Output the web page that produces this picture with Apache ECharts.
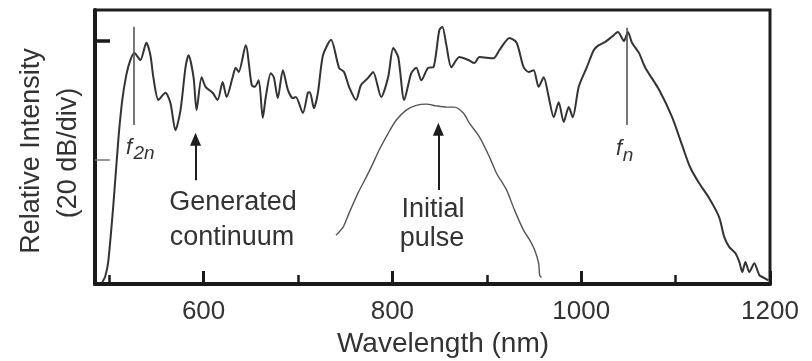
<!DOCTYPE html>
<html>
<head>
<meta charset="utf-8">
<script src="https://cdn.jsdelivr.net/npm/echarts@6/dist/echarts.min.js"></script>
<style>
  html, body { margin: 0; padding: 0; background: #fff; }
  #chart { width: 812px; height: 361px; }
</style>
</head>
<body>
<div id="chart"></div>
<script>
  // generated continuum (nm, dB)
  const contWavelength = [
    492.7, 495.9, 499, 504.4, 509.7, 513.9, 518.2, 522.4, 526.7, 533, 539.4, 543.7, 546.9, 552.2,
    559.6, 564.9, 570.2, 575.6, 580.9, 584.1, 589.4, 592.6, 597.9, 602.1, 609.6, 614.9, 620.2,
    624.4, 630.8, 634, 637.2, 644.6, 651, 654.2, 658.4, 662.7, 665.9, 671.2, 674.4, 678.6, 684,
    689.3, 694.6, 697.8, 705.2, 710.5, 712.6, 716.9, 721.1, 726.5, 735, 743.5, 748.8, 754.1,
    761.5, 766.8, 774.3, 779.6, 788.1, 795.5, 800.9, 806.2, 812.5, 820, 825.3, 830.6, 838,
    843.4, 849.7, 852.9, 857.2, 862.5, 871, 880.6, 886.9, 892.2, 907.1, 913.5, 924.1, 931.6,
    939, 944.3, 949.6, 954.9, 960.3, 965.6, 970.9, 976.2, 981.5, 986.8, 991.1, 997.4, 1006,
    1013.4, 1018.7, 1025.1, 1032.5, 1038.9, 1045.3, 1049.5, 1053.8, 1061.2, 1067.6, 1082.5,
    1096.3, 1106.9, 1115.4, 1125, 1135.6, 1146.2, 1151.5, 1156.9, 1163.2, 1167.5, 1170.7,
    1173.9, 1178.1, 1183.4, 1188.7, 1194.1, 1198.3
  ]
  const contIntensity = [
    -60.5, -59.5, -57.1, -47.6, -36.6, -29.9, -25.7, -23.2, -22.0, -23.2, -20.3, -22.4, -26.2, -29.9,
    -28.7, -30.4, -35.0, -31.6, -24.4, -22.4, -26.1, -31.6, -26.1, -27.7, -28.7, -29.9, -26.9,
    -29.4, -26.1, -24.5, -25.2, -20.7, -27.4, -27.7, -26.6, -32.9, -29.4, -25.4, -26.1, -29.6, -24.9,
    -28.2, -29.6, -29.4, -32.1, -28.7, -28.6, -31.3, -28.7, -22.4, -19.8, -24.5, -25.2, -27.7,
    -29.9, -27.4, -26.2, -25.2, -29.4, -26.1, -21.2, -22.7, -29.9, -25.4, -24.5, -26.6, -24.5,
    -24.4, -18.2, -17.6, -20.7, -24.4, -22.7, -23.2, -23.7, -22.7, -22.9, -21.5, -19.5, -20.3,
    -24.4, -25.2, -24.9, -27.7, -26.1, -29.4, -32.8, -30.3, -33.6, -31.1, -32.8, -27.7, -24.4,
    -21.5, -20.7, -20.2, -19.3, -18.5, -20.0, -18.5, -20.3, -22.0, -24.4, -28.2,
    -32.8, -37.5, -41.2, -43.9, -46.4, -49.6, -52.9, -54.6, -55.6, -57.1, -58.8,
    -57.1, -58.8, -57.3, -59.3, -59.8, -60.2
  ]

  // initial pulse (nm, dB)
  const pulseWavelength = [
    740.3, 747.7, 754.1, 763.7, 772.2, 779.6, 786, 795.5, 804, 814.7, 825.3, 835.9, 846.5,
    857.2, 865.7, 875.2, 881.6, 892.2, 902.9, 910.3, 920.9, 929.4, 939, 945.4, 950.7, 954.9, 956, 958
  ]
  const pulseIntensity = [
    -52.6, -51.3, -48.9, -45.5, -42.9, -40.5, -38.3, -35.5, -33.3, -31.6, -30.8, -30.6, -30.9,
    -31.1, -31.1, -32.1, -33.8, -36.1, -39.5, -42.2, -45.0, -48.4, -51.8, -53.4, -55.1, -57.3, -59.3, -59.7
  ]

  const majorTicks = [600, 800, 1000, 1200]
  const minorTicks = [500, 700, 900, 1100]

  const FONT = '"Liberation Sans", Arial, sans-serif'
  const TEXT = '#333'

  const zip = (xs, ys) => xs.map((x, i) => [x, ys[i]])

  const chart = echarts.init(document.getElementById('chart'))

  const text = (str, x, y, size, extra) => Object.assign({
    type: 'text',
    x: x,
    y: y,
    style: {
      text: str,
      font: (extra && extra.italic ? 'italic ' : '') + size + 'px ' + FONT,
      fill: TEXT,
      align: 'center',
      verticalAlign: 'middle'
    }
  }, extra && extra.rotation ? { rotation: extra.rotation } : {})

  const option = {
    animation: false,
    grid: {
      left: 95, right: 42, top: 10, bottom: 77,
      show: true, borderColor: '#1e1e1e', borderWidth: 3
    },
    xAxis: [
      {
        type: 'value', min: 485, max: 1200,
        axisLine: { show: true, onZero: false, lineStyle: { color: '#1a1a1a', width: 4 } },
        axisTick: { inside: true, length: 13, customValues: majorTicks, lineStyle: { color: '#1a1a1a', width: 3 } },
        axisLabel: {
          customValues: majorTicks, margin: 15, fontSize: 26, fontFamily: FONT, color: TEXT,
          formatter: v => String(v)
        },
        splitLine: { show: false }
      },
      {
        type: 'value', min: 485, max: 1200, position: 'bottom',
        axisLine: { show: false },
        axisTick: { inside: true, length: 9, customValues: minorTicks, lineStyle: { color: '#1a1a1a', width: 2.5 } },
        axisLabel: { show: false },
        splitLine: { show: false }
      }
    ],
    yAxis: [
      {
        type: 'value', min: -60.8, max: -14.8,
        axisLine: { show: true, onZero: false, lineStyle: { color: '#1a1a1a', width: 4 } },
        axisTick: { inside: true, length: 15, customValues: [-20], lineStyle: { color: '#1a1a1a', width: 3.5 } },
        axisLabel: { show: false },
        splitLine: { show: false }
      },
      {
        type: 'value', min: -60.8, max: -14.8, position: 'left',
        axisLine: { show: false },
        axisTick: { inside: true, length: 15, customValues: [-40], lineStyle: { color: '#777', width: 1.5 } },
        axisLabel: { show: false },
        splitLine: { show: false }
      }
    ],
    series: [
      {
        name: 'continuum',
        type: 'line',
        data: zip(contWavelength, contIntensity),
        showSymbol: false,
        smooth: 0.25,
        lineStyle: { color: '#333', width: 2 },
        markLine: {
          silent: true,
          symbol: ['none', 'none'],
          label: { show: false },
          lineStyle: { color: '#555', width: 1.6, type: 'solid' },
          data: [
            [{ coord: [525.6, -17.6] }, { coord: [525.6, -34.1] }],
            [{ coord: [1048.5, -17.8] }, { coord: [1048.5, -34.1] }]
          ]
        }
      },
      {
        name: 'pulse',
        type: 'line',
        data: zip(pulseWavelength, pulseIntensity),
        showSymbol: false,
        smooth: 0.25,
        lineStyle: { color: '#555', width: 1.4 },
        markLine: {
          silent: true,
          symbol: ['none', 'triangle'],
          symbolSize: [11, 13],
          label: { show: false },
          lineStyle: { color: '#1e1e1e', width: 2, type: 'solid' },
          data: [
            [{ coord: [591.5, -43.4] }, { coord: [591.5, -36.5] }],
            [{ coord: [848.7, -45.0] }, { coord: [848.7, -34.8] }]
          ]
        }
      }
    ],
    graphic: [
      text('Relative Intensity', 32, 151, 27, { rotation: Math.PI / 2 }),
      text('(20 dB/div)', 69, 153, 27, { rotation: Math.PI / 2 }),
      text('Wavelength (nm)', 443, 344, 28),
      text('Generated', 233, 203, 27),
      text('continuum', 232, 238, 27),
      text('Initial', 433, 210, 27),
      text('pulse', 432, 239, 27),
      text('f', 129, 148, 22, { italic: true }),
      text('2n', 144, 154, 19, { italic: true }),
      text('f', 619, 149, 22, { italic: true }),
      text('n', 628, 156, 19, { italic: true })
    ]
  }

  chart.setOption(option)
</script>
</body>
</html>
